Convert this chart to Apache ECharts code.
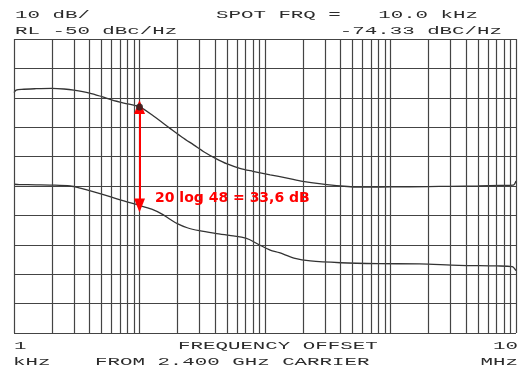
<!DOCTYPE html>
<html>
<head>
<meta charset="utf-8">
<script src="https://cdn.jsdelivr.net/npm/echarts@6/dist/echarts.min.js"></script>
<style>html,body{margin:0;padding:0;background:#fff}#c{width:528px;height:372px}</style>
</head>
<body>
<div id="c"></div>
<script>
// Upper trace (free-running / reference) : offset frequency in Hz, level in dBc/Hz
const topFreq = [1000,1040,1150,1500,2000,2500,3000,4000,5000,6000,7500,10000,13000,17500,22000,27000,33000,40000,50000,63000,80000,110000,150000,200000,280000,400000,600000,1000000,2000000,3000000,5000000,7500000,9500000,10000000];
const topLevel = [-68.2,-67.4,-67.1,-66.9,-66.8,-67.0,-67.4,-68.4,-69.6,-70.7,-71.8,-73.1,-76.3,-80.4,-83.5,-86.0,-88.5,-90.5,-92.5,-94.0,-95.0,-96.2,-97.3,-98.4,-99.3,-100.0,-100.4,-100.3,-100.2,-100.1,-100.0,-99.8,-99.7,-98.3];
// Lower trace
const botFreq = [1000,1100,1500,2000,2800,3300,4000,5000,6000,7500,10000,12500,15000,17500,20000,24000,30000,40000,52000,65000,75000,90000,110000,130000,170000,230000,400000,800000,1700000,3500000,7000000,9300000,10000000];
const botLevel = [-99.4,-99.5,-99.6,-99.7,-100.0,-100.6,-101.6,-102.8,-103.8,-105.1,-106.6,-107.9,-109.5,-111.3,-112.8,-114.2,-115.2,-116.1,-116.8,-117.4,-118.2,-120.0,-121.8,-122.7,-124.5,-125.5,-126.1,-126.4,-126.5,-127.0,-127.2,-127.4,-128.8];
// Spot frequency marker
const spotFreq = 10000;
// Axis
const decades = [1000,10000,100000,1000000];
const xMin = 1000, xMax = 10000000;
const yMin = -150, yMax = -50, yStep = 10;

const gridX = [];
decades.forEach(d => { for (let k = 1; k <= 9; k++) gridX.push(k*d); });
gridX.push(xMax);

const topData = topFreq.map((f,i)=>[f, topLevel[i]]);
const botData = botFreq.map((f,i)=>[f, botLevel[i]]);
const spotTop = topLevel[topFreq.indexOf(spotFreq)];
const spotBot = botLevel[botFreq.indexOf(spotFreq)];

const chart = echarts.init(document.getElementById('c'), null, {renderer:'canvas'});
const mono = '11px "Liberation Mono", "DejaVu Sans Mono", monospace';
const ink = '#2b2b2b';
const SX = 1.89;
function txt(x, y, s, align) {
  return {type:'text', x:x, y:y, scaleX:SX, silent:true,
    style:{text:s, x:0, y:0, font:mono, fill:ink, textAlign:align||'left', textVerticalAlign:'middle'}};
}
chart.setOption({
  animation:false,
  backgroundColor:'#fff',
  grid:{left:14, right:12, top:39, bottom:39},
  xAxis:{type:'log', logBase:10, min:xMin, max:xMax,
    axisLine:{show:false}, axisTick:{show:false}, axisLabel:{show:false}, splitLine:{show:false}},
  yAxis:{type:'value', min:yMin, max:yMax, interval:yStep,
    axisLine:{show:false}, axisTick:{show:false}, axisLabel:{show:false},
    splitLine:{show:true, lineStyle:{color:'#444', width:1.2}}},
  series:[
    {type:'line', data:topData, z:1, symbol:'none', lineStyle:{opacity:0}, silent:true,
     markLine:{silent:true, symbol:'none', label:{show:false}, animation:false,
       lineStyle:{color:'#444', width:1.2, type:'solid'},
       data: gridX.map(v=>({xAxis:v}))}},
    {type:'line', data:topData, z:3, symbol:'none', smooth:0.3, lineStyle:{color:'#333', width:1.3}, silent:true},
    {type:'line', data:botData, z:3, symbol:'none', smooth:0.3, lineStyle:{color:'#333', width:1.3}, silent:true,
     markLine:{silent:true, animation:false, symbol:['triangle','triangle'], symbolSize:[11,14], label:{show:false},
       lineStyle:{color:'#ff0000', width:2, type:'solid'},
       data:[[{coord:[spotFreq, spotTop]},{coord:[spotFreq, spotBot]}]]}},
    {type:'scatter', data:[[spotFreq, spotTop]], z:5, symbolSize:7, itemStyle:{color:'#222'}, silent:true}
  ],
  graphic:[
    txt(15, 15, '10 dB/'),
    txt(216, 15, 'SPOT FRQ =   10.0 kHz'),
    txt(15, 31, 'RL -50 dBc/Hz'),
    txt(502, 31, '-74.33 dBC/Hz', 'right'),
    txt(14, 346, '1'),
    txt(178, 346, 'FREQUENCY OFFSET'),
    txt(518, 346, '10', 'right'),
    txt(13, 362, 'kHz'),
    txt(95, 362, 'FROM 2.400 GHz CARRIER'),
    txt(518, 362, 'MHz', 'right'),
    {type:'text', x:155, y:198, silent:true, z:10,
     style:{text:'20 log 48 = 33,6 dB', font:'bold 14px "DejaVu Sans", sans-serif', fill:'#ff0000', textVerticalAlign:'middle'}}
  ]
});
</script>
</body>
</html>
